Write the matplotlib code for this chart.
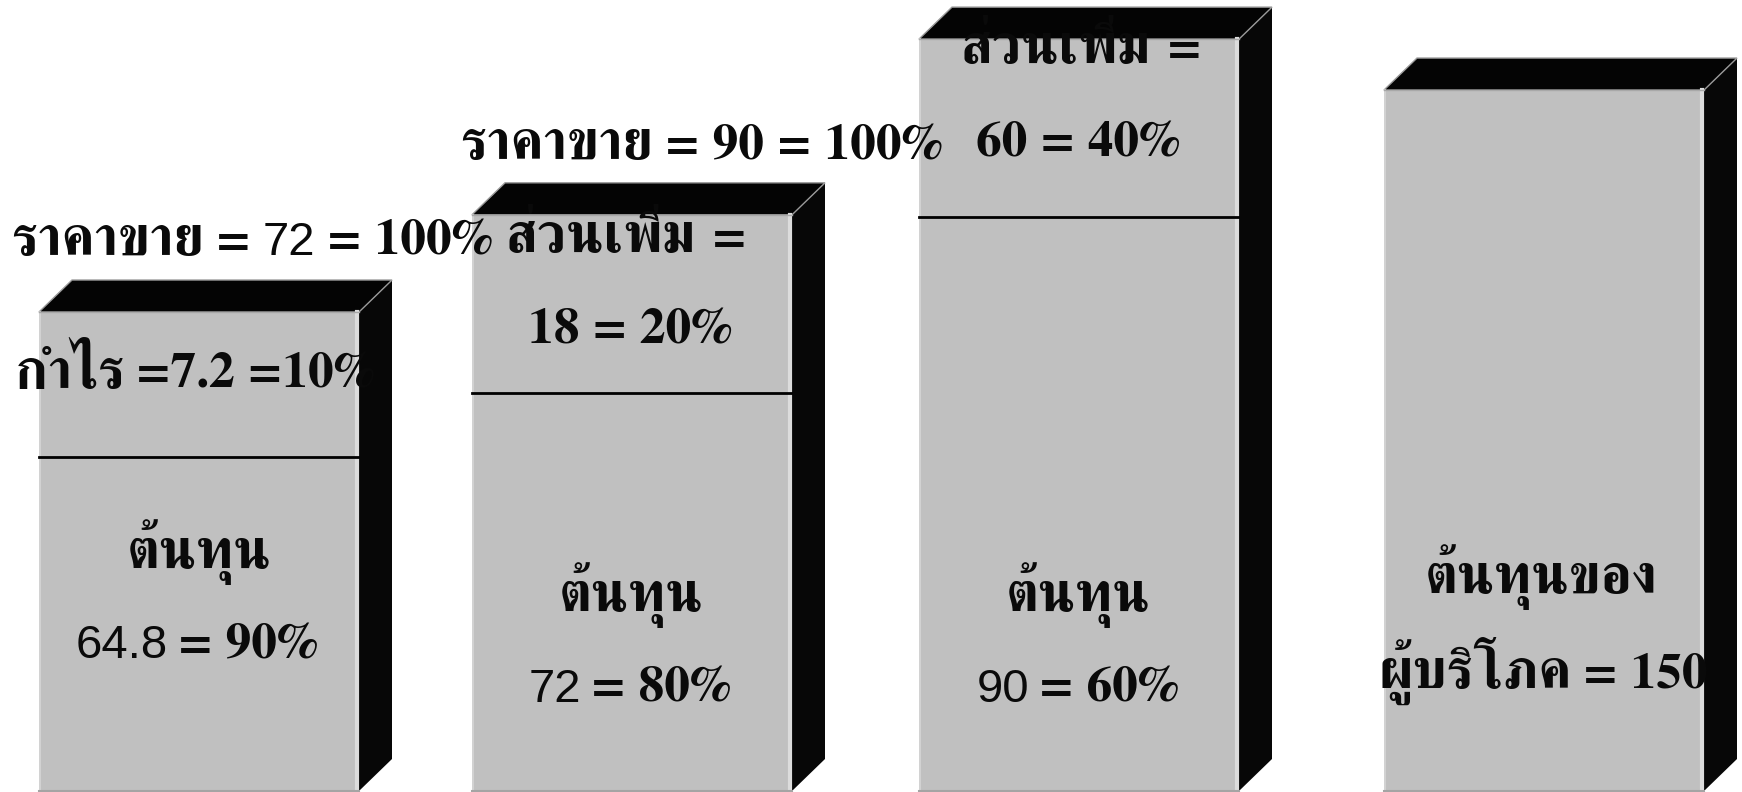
# Cost-plus pricing diagram: price, markup and cost as stacked 3D bars
import matplotlib
matplotlib.use("Agg")
import matplotlib.pyplot as plt
from matplotlib.transforms import offset_copy


# Data ........................................................................
stages = ["stage 1", "stage 2", "stage 3", "consumer"]
cost_values = [64.8, 72, 90]          # ต้นทุน
cost_pct = [90, 80, 60]
markup_values = [7.2, 18, 60]         # กำไร / ส่วนเพิ่ม
markup_pct = [10, 20, 40]
sale_price = [72, 90]                 # ราคาขาย
consumer_cost = 150
# drawn heights of the schematic blocks (value units)
drawn_cost = [71.5, 85.2, 122.8, 150.0]
drawn_markup = [31.0, 38.1, 38.1, 0.0]

# Layout ......................................................................
W, H, DPI = 1742, 792, 100
PX = 4.673                             # pixels per value unit
BASE = 791                             # pixel row of the bars' bottom
bar_left = [39, 472, 919, 1384]
bar_width = 320
depth_x = 33
depth_y = 32 / PX

front = "#c0c0c0"
dark = "#070707"

fig = plt.figure(figsize=(W / DPI, H / DPI), dpi=DPI)
ax = fig.add_axes([0, 0, 1, 1])
ax.set_xlim(0, W)
ax.set_ylim(-(H - BASE) / PX, BASE / PX)
ax.axis("off")

def y_at(px):
    # text baseline given in pixels from the top of the picture
    return (BASE - px) / PX

# Bars ........................................................................
ax.bar(bar_left, drawn_cost, width=bar_width, align="edge", color=front, zorder=2)
ax.bar(bar_left, drawn_markup, width=bar_width, bottom=drawn_cost, align="edge",
       color=front, zorder=2)

for i in range(len(stages)):
    L = bar_left[i]; R = L + bar_width
    T = drawn_cost[i] + drawn_markup[i]
    # right side and top face
    ax.fill([R, R, R + depth_x, R + depth_x], [0, T, T + depth_y, depth_y],
            color=dark, lw=0, zorder=3)
    ax.fill([L, R, R + depth_x, L + depth_x], [T, T, T + depth_y, T + depth_y],
            color="#040404", ec="#9a9a9a", lw=1, zorder=3)
    # light bevel edges on the front face
    ax.plot([R - 2, R - 2], [0, T], color="#dcdcdc", lw=3, zorder=4)
    ax.plot([L + 0.5, L + 0.5], [0, T], color="#d6d6d6", lw=1.2, zorder=4)
    ax.plot([L, R], [T, T], color="#a8a8a8", lw=1, zorder=4)
    ax.plot([L, R], [0, 0], color="#a4a4a4", lw=1.5, zorder=4)
    # divider between cost and markup
    if drawn_markup[i] > 0:
        ax.plot([L, R - 1], [drawn_cost[i], drawn_cost[i]], color="black", lw=2, zorder=4)

# Text ........................................................................
thai = dict(family="FreeSerif", weight="bold", size=40, color="#0a0a0a")
num = dict(family="FreeSerif", weight="bold", size=37, color="#0a0a0a")
sans = dict(family="Liberation Sans", weight="normal", size=34, color="#0a0a0a")
renderer = fig.canvas.get_renderer()

def label(x, ypx, pieces, ha="center", gap=10):
    """Draw text pieces with different fonts side by side on one baseline."""
    texts, widths = [], []
    for s, props in pieces:
        t = ax.text(x, y_at(ypx), s, ha="left", va="baseline", zorder=6, **props)
        texts.append(t)
        widths.append(t.get_window_extent(renderer).width)
    total = sum(widths) + gap * (len(pieces) - 1)
    off = -total / 2 if ha == "center" else 0
    for t, w in zip(texts, widths):
        t.set_transform(offset_copy(ax.transData, x=off, y=0, units="dots"))
        off += w + gap

# stage 1
label(11, 255, [("ราคาขาย", thai), ("=", num), (f"{sale_price[0]}", sans),
                ("= 100%", num)], ha="left", gap=12)
label(195, 388, [("กำไร", thai), (f"={markup_values[0]} ={markup_pct[0]}%", num)])
label(199, 568, [("ต้นทุน", thai)])
label(197, 658, [(f"{cost_values[0]}", sans), (f"= {cost_pct[0]}%", num)])

# stage 2
label(460, 159, [("ราคาขาย", thai), (f"= {sale_price[1]} = 100%", num)], ha="left", gap=12)
label(626, 252, [("ส่วนเพิ่ม", thai), ("=", num)], gap=16)
label(630, 344, [(f"{markup_values[1]} = {markup_pct[1]}%", num)])
label(631, 611, [("ต้นทุน", thai)])
label(630, 702, [(f"{cost_values[1]}", sans), (f"= {cost_pct[1]}%", num)])

# stage 3
label(1081, 63, [("ส่วนเพิ่ม", thai), ("=", num)], gap=16)
label(1078, 157, [(f"{markup_values[2]} = {markup_pct[2]}%", num)])
label(1078, 611, [("ต้นทุน", thai)])
label(1078, 702, [(f"{cost_values[2]}", sans), (f"= {cost_pct[2]}%", num)])

# consumer
label(1541, 593, [("ต้นทุนของ", thai)])
label(1543, 688, [("ผู้บริโภค", thai), (f"= {consumer_cost}", num)], gap=12)

fig.savefig("out.png", dpi=DPI)
